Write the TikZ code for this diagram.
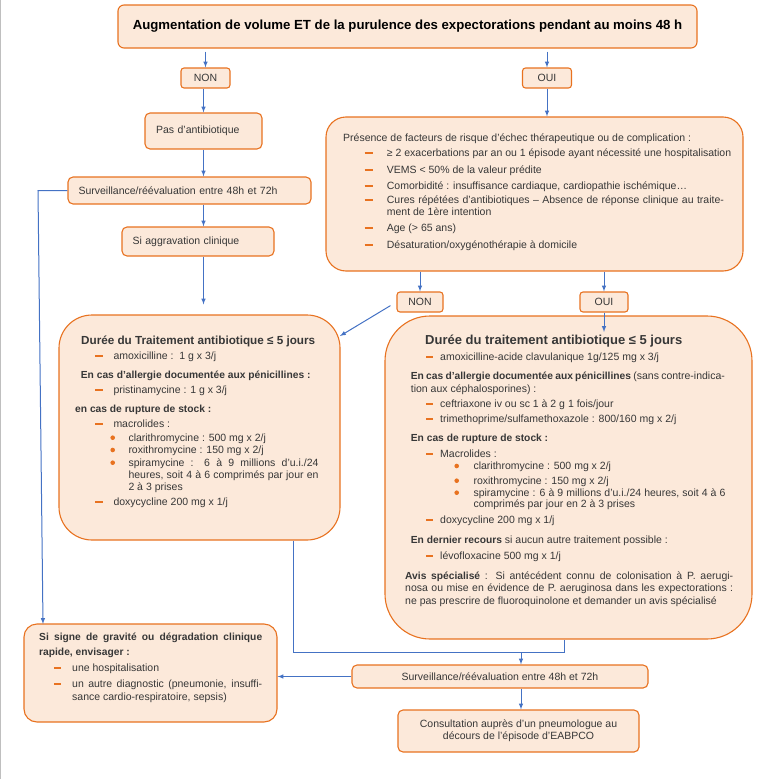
\documentclass[tikz,border=0pt]{standalone}
\usepackage{fontspec}
\setmainfont{Liberation Sans}
\usetikzlibrary{arrows,calc}
\tikzset{>=latex}
\definecolor{boxfill}{RGB}{252,233,218}
\definecolor{boxline}{RGB}{232,114,32}
\definecolor{linkblue}{RGB}{68,114,196}
\definecolor{ink}{RGB}{55,55,55}
\newcommand{\bodyfont}{\fontsize{10.5}{12}\selectfont}
\newcommand{\boldfont}{\bfseries\fontsize{10.25}{12}\selectfont}
\newcommand{\fullline}[2]{\makebox[#1][s]{#2}}
\tikzstyle{box}=[rectangle,draw=boxline,fill=boxfill,line width=1.1pt,rounded corners=5pt,inner sep=0pt,font=\bodyfont,text=ink]
\tikzstyle{choice}=[box,rounded corners=3pt,minimum width=49pt,minimum height=20pt]
\tikzstyle{txt}=[anchor=base west,inner sep=0pt,font=\bodyfont,text=ink]
\tikzstyle{link}=[draw=linkblue,line width=1pt]
\tikzstyle{tiret}=[draw=boxline,line width=2.2pt]
\tikzstyle{puce}=[fill=boxline]

\begin{document}
\begin{tikzpicture}[x=1pt,y=-1pt]
	\useasboundingbox (0,0) rectangle (775,779);
	\draw[gray!50, line width=1pt] (0.5,0) -- (0.5,779);
	
	% top of the chart
	\node[box, minimum width=579pt, minimum height=43pt, rounded corners=6pt, font=\bfseries\fontsize{13.2}{15}\selectfont, text=black] (top) at (407.5,26.5) {Augmentation de volume ET de la purulence des expectorations pendant au moins 48 h};
	\node[choice] (non1) at (205.5,78) {NON};
	\node[choice] (oui1) at (547,78) {OUI};
	
	% left branch
	\node[box, text width=95pt, inner xsep=11pt, minimum height=36pt, align=left] (pas) at (203.5,131) {Pas d'antibiotique};
	\node[box, text width=222pt, inner xsep=10.5pt, minimum height=27pt, align=left] (surv1) at (189.5,190.5) {Surveillance/réévaluation entre 48h et 72h};
	\node[box, text width=131pt, inner xsep=10.5pt, minimum height=29pt, align=left] (aggrav) at (198,241.5) {Si aggravation clinique};
	
	% risk factors
	\node[box, rounded corners=20pt, minimum width=417pt, minimum height=154pt] (risk) at (534.5,194) {};
	\node[txt] (riskhead) at (343,141.5) {Présence de facteurs de risque d'échec thérapeutique ou de complication :};
	\foreach \y in {153.3,170,185.7,200.3,228.3,245}
		\draw[tiret] (364.5,\y) -- ++(8,0);
	\node[txt] (risk1) at (386.7,156.6) {≥ 2 exacerbations par an ou 1 épisode ayant nécessité une hospitalisation};
	\node[txt] (risk2) at (386.7,173.3) {VEMS < 50\% de la valeur prédite};
	\node[txt] (risk3) at (386.7,189) {Comorbidité : insuffisance cardiaque, cardiopathie ischémique…};
	\node[txt] (risk4) at (386.7,203.6) {\fullline{337pt}{Cures répétées d'antibiotiques – Absence de réponse clinique au traite-}};
	\node[txt] (risk4b) at (386.7,215.6) {ment de 1ère intention};
	\node[txt] (risk5) at (386.7,231.6) {Age (> 65 ans)};
	\node[txt] (risk6) at (386.7,248.3) {Désaturation/oxygénothérapie à domicile};
	
	\node[choice, minimum width=46pt] (non2) at (420,302) {NON};
	\node[choice, minimum width=48pt] (oui2) at (604,302) {OUI};
	
	% first treatment box
	\node[box, rounded corners=33pt, minimum width=281pt, minimum height=225pt] (trtA) at (199.5,427.5) {};
	\node[txt, font=\bfseries\fontsize{11.7}{14}\selectfont] (trtAtitle) at (81,344) {Durée du Traitement antibiotique ≤ 5 jours};
	\foreach \y in {356,390,424.3,502.3}
		\draw[tiret] (95,\y) -- ++(7.7,0);
	\foreach \y in {437.7,450,462.7}
		\fill[puce] (112.7,\y) circle (2.3);
	\node[txt] (a1) at (113.3,359.3) {amoxicilline :\ \ 1 g x 3/j};
	\node[txt, font=\boldfont] (a2) at (80.7,378.3) {En cas d'allergie documentée aux pénicillines :};
	\node[txt] (a3) at (113.3,393.3) {pristinamycine : 1 g x 3/j};
	\node[txt, font=\boldfont] (a4) at (75,412.3) {en cas de rupture de stock :};
	\node[txt] (a5) at (113.3,427.6) {macrolides :};
	\node[txt] (a6) at (128.3,441) {clarithromycine : 500 mg x 2/j};
	\node[txt] (a7) at (128.3,453.3) {roxithromycine : 150 mg x 2/j};
	\node[txt] (a8) at (128.3,466) {\fullline{190pt}{spiramycine : 6 à 9 millions d'u.i./24}};
	\node[txt] (a8b) at (128.3,478.3) {\fullline{190pt}{heures, soit 4 à 6 comprimés par jour en}};
	\node[txt] (a8c) at (128.3,490) {2 à 3 prises};
	\node[txt] (a9) at (113.3,505.6) {doxycycline 200 mg x 1/j};
	
	% second treatment box
	\node[box, rounded corners=45pt, minimum width=367pt, minimum height=323pt] (trtB) at (568.5,477.5) {};
	\node[txt, font=\bfseries\fontsize{13}{15}\selectfont] (trtBtitle) at (425,344) {Durée du traitement antibiotique ≤ 5 jours};
	\foreach \y in {356.7,404,419.3,454.3,520,556}
		\draw[tiret] (426,\y) -- ++(6.7,0);
	\foreach \y in {466,480.7,492.7}
		\fill[puce] (456.7,\y) circle (2.3);
	\node[txt] (b1) at (440,360) {amoxicilline-acide clavulanique 1g/125 mg x 3/j};
	\node[txt] (b2) at (410.7,379) {\fullline{314pt}{{\boldfont En cas d'allergie documentée aux pénicillines} (sans contre-indica-}};
	\node[txt] (b2b) at (410.7,392.3) {tion aux céphalosporines) :};
	\node[txt] (b3) at (440,407.3) {ceftriaxone iv ou sc 1 à 2 g 1 fois/jour};
	\node[txt] (b4) at (440,422.6) {trimethoprime/sulfamethoxazole : 800/160 mg x 2/j};
	\node[txt, font=\boldfont] (b5) at (410.7,441.6) {En cas de rupture de stock :};
	\node[txt] (b6) at (440,457.6) {Macrolides :};
	\node[txt] (b7) at (473.3,469.3) {clarithromycine : 500 mg x 2/j};
	\node[txt] (b8) at (473.3,484) {roxithromycine : 150 mg x 2/j};
	\node[txt] (b9) at (473.3,496) {\fullline{252pt}{spiramycine : 6 à 9 millions d'u.i./24 heures, soit 4 à 6}};
	\node[txt] (b9b) at (473.3,507.6) {comprimés par jour en 2 à 3 prises};
	\node[txt] (b10) at (440,523.3) {doxycycline 200 mg x 1/j};
	\node[txt] (b11) at (410.7,543.3) {{\boldfont En dernier recours} si aucun autre traitement possible :};
	\node[txt] (b12) at (440,559.3) {lévofloxacine 500 mg x 1/j};
	\node[txt] (avis1) at (405,579.3) {\fullline{328pt}{{\boldfont Avis spécialisé} : Si antécédent connu de colonisation à P. aerugi-}};
	\node[txt] (avis2) at (405,591.6) {\fullline{328pt}{nosa ou mise en évidence de P. aeruginosa dans les expectorations :}};
	\node[txt] (avis3) at (405,604) {ne pas prescrire de fluoroquinolone et demander un avis spécialisé};
	
	% bottom of the chart
	\node[box, rounded corners=13pt, minimum width=253pt, minimum height=98pt] (grav) at (150.5,673) {};
	\node[txt, font=\boldfont] (g1) at (39,640) {\fullline{223pt}{Si signe de gravité ou dégradation clinique}};
	\node[txt, font=\boldfont] (g1b) at (39,655.6) {rapide, envisager :};
	\foreach \y in {668.3,684}
		\draw[tiret] (54,\y) -- ++(7,0);
	\node[txt] (g2) at (72,671.6) {une hospitalisation};
	\node[txt] (g3) at (72,687.3) {\fullline{190pt}{un autre diagnostic (pneumonie, insuffi-}};
	\node[txt] (g3b) at (72,700) {sance cardio-respiratoire, sepsis)};
	
	\node[box, minimum width=296pt, minimum height=23pt] (surv2) at (500,676.5) {Surveillance/réévaluation entre 48h et 72h};
	\node[box, minimum width=241pt, minimum height=42pt, align=center, font=\fontsize{10.5}{11.7}\selectfont] (consult) at (518.5,731) {Consultation auprès d'un pneumologue au\\décours de l'épisode d'EABPCO};
	
	% connectors
	\coordinate (nonL) at (340,336);
	\coordinate (ouiB) at (604,332);
	\coordinate (bendL) at (38,0);
	\coordinate (gravIn) at (43,624);
	\coordinate (joinL) at (293,652);
	\coordinate (joinR) at (564,652);
	\coordinate (joinM) at (521,652);
	
	\draw[link,->,shorten <=3pt] (top.south -| non1) -- (non1.north);
	\draw[link,->,shorten <=3pt] (top.south -| oui1) -- (oui1.north);
	\draw[link,->] (non1.south -| pas) -- (pas.north);
	\draw[link,->] (oui1.south) -- (oui1 |- risk.north);
	\draw[link,->] (pas.south) -- (pas |- surv1.north);
	\draw[link,->] (surv1.south -| pas) -- (pas |- aggrav.north);
	\draw[link,->,shorten >=10pt] (aggrav.south -| pas) -- (pas |- trtA.north);
	\draw[link,->] (risk.south -| non2) -- (non2.north);
	\draw[link,->] (risk.south -| oui2) -- (oui2.north);
	\draw[link,->,shorten <=7pt] (non2.west) -- (nonL);
	\draw[link,->] (oui2.south) -- (ouiB);
	\draw[link,->] (surv1.west) -- (surv1.west -| bendL) -- (gravIn);
	\draw[link] (trtA.south -| joinL) -- (joinL) -- (joinR) -- (trtB.south -| joinR);
	\draw[link,->] (joinM) -- (joinM |- surv2.north);
	\draw[link,->] (surv2.west) -- (surv2.west -| grav.east);
	\draw[link,->] (surv2.south -| joinM) -- (joinM |- consult.north);
\end{tikzpicture}
\end{document}
